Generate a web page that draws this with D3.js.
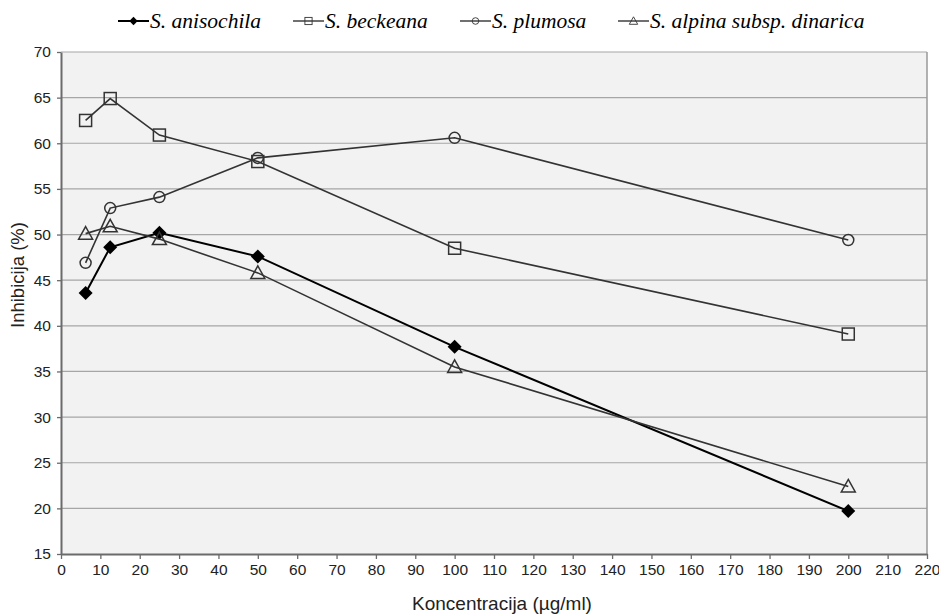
<!DOCTYPE html>
<html><head><meta charset="utf-8">
<script src="https://cdn.jsdelivr.net/npm/d3@7/dist/d3.min.js"></script>
<style>body{margin:0;background:#fff}svg{display:block}</style>
</head><body>
<svg id="chart" width="939" height="614"></svg>
<script>
const concentrations = [6.25, 12.5, 25, 50, 100, 200];
const seriesNames = ["S. anisochila", "S. beckeana", "S. plumosa", "S. alpina subsp. dinarica"];
const anisochila = [43.6, 48.6, 50.2, 47.6, 37.7, 19.7];
const beckeana = [62.5, 64.9, 60.9, 58.0, 48.5, 39.1];
const plumosa = [46.9, 52.9, 54.1, 58.4, 60.6, 49.4];
const alpina = [50.1, 50.9, 49.5, 45.8, 35.5, 22.4];
const xTicks = d3.range(0, 221, 10);
const yTicks = d3.range(15, 71, 5);
const markerTypes = ["diamond", "square", "circle", "triangle"];

const svg = d3.select("#chart");
const L = 61, R = 927, T = 52, B = 554;
const x = d3.scaleLinear().domain([0, 220]).range([L, R]);
const y = d3.scaleLinear().domain([15, 70]).range([B, T]);

svg.append("rect").attr("x", L).attr("y", T).attr("width", R - L).attr("height", B - T).attr("fill", "#f2f2f2");

// gridlines
svg.append("g").selectAll("line").data(yTicks.filter(d => d > 15)).join("line")
  .attr("x1", L).attr("x2", R).attr("y1", d => y(d)).attr("y2", d => y(d))
  .attr("stroke", "#a6a6a6").attr("stroke-width", 1.2);
// right border
svg.append("line").attr("x1", R).attr("x2", R).attr("y1", T).attr("y2", B).attr("stroke", "#999").attr("stroke-width", 1.5);

const tickFont = "Liberation Sans, Arial, sans-serif";
const yAxis = svg.append("g").attr("transform", `translate(${L},0)`)
  .call(d3.axisLeft(y).tickValues(yTicks).tickSize(4).tickPadding(6).tickSizeOuter(0));
const xAxis = svg.append("g").attr("transform", `translate(0,${B})`)
  .call(d3.axisBottom(x).tickValues(xTicks).tickSize(5).tickPadding(5).tickSizeOuter(0));
[xAxis, yAxis].forEach(a => {
  a.select(".domain").attr("stroke", "#6b6b6b").attr("stroke-width", 2);
  a.selectAll(".tick line").attr("stroke", "#6b6b6b").attr("stroke-width", 1.3);
  a.selectAll(".tick text").attr("fill", "#222").style("font-family", tickFont).style("font-size", "15.5px");
});

const data = [anisochila, beckeana, plumosa, alpina];
const line = d3.line().x((d, i) => x(concentrations[i])).y(d => y(d));

function drawMarker(g, type, cx, cy) {
  if (type === "diamond") {
    g.append("path").attr("d", `M${cx},${cy-7}L${cx+7},${cy}L${cx},${cy+7}L${cx-7},${cy}Z`).attr("fill", "#000");
  } else if (type === "square") {
    g.append("rect").attr("x", cx-6).attr("y", cy-6).attr("width", 12).attr("height", 12)
      .attr("fill", "none").attr("stroke", "#333").attr("stroke-width", 1.5);
  } else if (type === "circle") {
    g.append("circle").attr("cx", cx).attr("cy", cy).attr("r", 5.5)
      .attr("fill", "none").attr("stroke", "#333").attr("stroke-width", 1.5);
  } else {
    g.append("path").attr("d", `M${cx},${cy-7}L${cx+7},${cy+5.5}L${cx-7},${cy+5.5}Z`)
      .attr("fill", "none").attr("stroke", "#333").attr("stroke-width", 1.5);
  }
}

data.forEach((vals, s) => {
  const g = svg.append("g");
  g.append("path").datum(vals).attr("d", line).attr("fill", "none")
    .attr("stroke", s === 0 ? "#000" : "#333").attr("stroke-width", s === 0 ? 2 : 1.6);
  vals.forEach((v, i) => drawMarker(g, markerTypes[s], x(concentrations[i]), y(v)));
});

// legend
const legStarts = [118, 293, 460, 618];
const leg = svg.append("g");
seriesNames.forEach((n, s) => {
  const g = leg.append("g");
  const x0 = legStarts[s], yy = 21;
  g.append("line").attr("x1", x0).attr("x2", x0 + 31).attr("y1", yy).attr("y2", yy)
    .attr("stroke", s === 0 ? "#000" : "#333").attr("stroke-width", s === 0 ? 2 : 1.4);
  const mg = g.append("g").attr("transform", `translate(${x0 + 15.5},${yy}) scale(0.6)`);
  drawMarker(mg, markerTypes[s], 0, 0);
  g.append("text").attr("x", x0 + 32).attr("y", yy + 7).text(n)
    .style("font-family", "Liberation Serif, Times New Roman, serif").style("font-style", "italic")
    .style("font-size", "21.5px").attr("fill", "#000");
});

svg.append("text").attr("x", 502).attr("y", 610).attr("text-anchor", "middle").text("Koncentracija (µg/ml)")
  .style("font-family", tickFont).style("font-size", "19px").attr("fill", "#222");
svg.append("text").attr("transform", "translate(24,275) rotate(-90)").attr("text-anchor", "middle").text("Inhibicija (%)")
  .style("font-family", tickFont).style("font-size", "18.5px").attr("fill", "#222");
</script>
</body></html>
